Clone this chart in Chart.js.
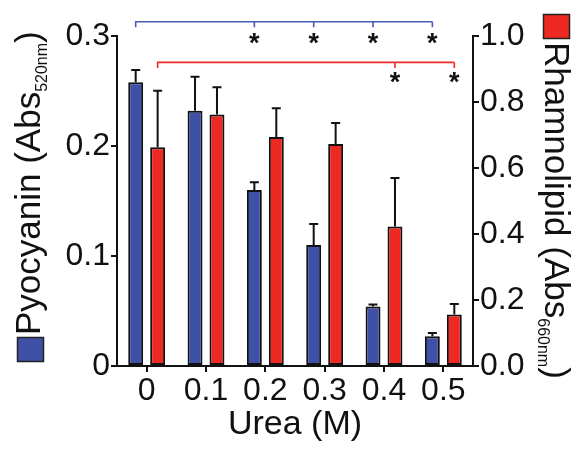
<!DOCTYPE html>
<html>
<head>
<meta charset="utf-8">
<script src="https://cdn.jsdelivr.net/npm/chart.js@4.4.1/dist/chart.umd.min.js"></script>
<style>
  html, body { margin: 0; padding: 0; background: #fff; }
  #chart { display: block; }
</style>
</head>
<body>
<canvas id="chart" width="577" height="455"></canvas>
<script>
// urea concentration (M)
var categories = ["0", "0.1", "0.2", "0.3", "0.4", "0.5"];

// pyocyanin, Abs 520nm (left axis)
var pyocyanin = [0.258, 0.232, 0.160, 0.110, 0.054, 0.027];
var pyocyaninErr = [0.011, 0.031, 0.007, 0.019, 0.002, 0.003];

// rhamnolipid, Abs 660nm (right axis)
var rhamnolipid = [0.663, 0.762, 0.694, 0.673, 0.423, 0.156];
var rhamnolipidErr = [0.171, 0.083, 0.087, 0.063, 0.147, 0.032];

// significance vs 0 M (indices into categories)
var pyocyaninSig = [2, 3, 4, 5];
var rhamnolipidSig = [4, 5];

var leftTicks = [0, 0.1, 0.2, 0.3];
var rightTicks = [0, 0.2, 0.4, 0.6, 0.8, 1.0];

var BLUE = "#3f51a7";
var RED = "#ee2823";
var FONT = "'Liberation Sans', Arial, Helvetica, sans-serif";

// error bars, significance brackets, axis titles with subscripts
var extras = {
  id: "extras",
  afterDatasetsDraw: function(chart) {
    var ctx = chart.ctx;
    var errs = [pyocyaninErr, rhamnolipidErr];
    var vals = [pyocyanin, rhamnolipid];

    ctx.save();
    ctx.strokeStyle = "#111";
    ctx.lineWidth = 2;
    for (var d = 0; d < 2; d++) {
      var meta = chart.getDatasetMeta(d);
      var sc = chart.scales[meta.yAxisID];
      meta.data.forEach(function(bar, j) {
        var yTop = sc.getPixelForValue(vals[d][j] + errs[d][j]);
        ctx.beginPath();
        ctx.moveTo(bar.x, bar.y);
        ctx.lineTo(bar.x, yTop);
        ctx.moveTo(bar.x - 4.5, yTop);
        ctx.lineTo(bar.x + 4.5, yTop);
        ctx.stroke();
      });
    }
    ctx.restore();

    function bracket(d, sig, level, starLevel, color) {
      var meta = chart.getDatasetMeta(d);
      var sc = chart.scales[meta.yAxisID];
      var y = sc.getPixelForValue(level);
      var x0 = meta.data[0].x;
      var x1 = meta.data[meta.data.length - 1].x;
      ctx.save();
      ctx.strokeStyle = color;
      ctx.lineWidth = 1.6;
      ctx.beginPath();
      ctx.moveTo(x0, y + 5.5);
      ctx.lineTo(x0, y);
      ctx.lineTo(x1, y);
      sig.forEach(function(i) {
        var x = meta.data[i].x;
        ctx.moveTo(x, y);
        ctx.lineTo(x, y + 5.5);
      });
      ctx.stroke();
      ctx.fillStyle = "#111";
      ctx.font = "bold 27px " + FONT;
      ctx.textAlign = "center";
      ctx.textBaseline = "alphabetic";
      var m = ctx.measureText("*");
      var cy = sc.getPixelForValue(starLevel);
      var base = cy + (m.actualBoundingBoxAscent - m.actualBoundingBoxDescent) / 2;
      sig.forEach(function(i) {
        ctx.fillText("*", meta.data[i].x, base);
      });
      ctx.restore();
    }
    bracket(0, pyocyaninSig, 0.313, 0.298, "#4a5cb5");
    bracket(1, rhamnolipidSig, 0.92, 0.873, "#ee2a2a");

    function title(x, y, angle, main, sub, subShift) {
      ctx.save();
      ctx.translate(x, y);
      ctx.rotate(angle);
      ctx.fillStyle = "#111";
      ctx.textAlign = "left";
      ctx.textBaseline = "alphabetic";
      ctx.font = "35px " + FONT;
      ctx.fillText(main, 0, 0);
      var w = ctx.measureText(main).width;
      ctx.font = "16px " + FONT;
      ctx.fillText(sub, w, subShift);
      w += ctx.measureText(sub).width;
      ctx.font = "35px " + FONT;
      ctx.fillText(")", w, 0);
      ctx.restore();
    }
    title(40, 335, -Math.PI / 2, "Pyocyanin (Abs", "520nm", 7);
    title(545, 42, Math.PI / 2, "Rhamnolipid (Abs", "660nm", 7);

    // legend squares next to the titles
    ctx.save();
    ctx.lineWidth = 1.5;
    ctx.strokeStyle = "#222";
    ctx.fillStyle = BLUE;
    ctx.fillRect(17.5, 337.5, 26, 24);
    ctx.strokeRect(17.5, 337.5, 26, 24);
    ctx.fillStyle = RED;
    ctx.fillRect(543.5, 14.5, 26, 24);
    ctx.strokeRect(543.5, 14.5, 26, 24);
    ctx.restore();
  }
};

new Chart(document.getElementById("chart"), {
  type: "bar",
  data: {
    labels: categories,
    datasets: [
      {
        label: "Pyocyanin",
        data: pyocyanin,
        yAxisID: "y",
        backgroundColor: BLUE,
        borderColor: "#111",
        borderWidth: 2,
        borderSkipped: false,
        categoryPercentage: 0.74,
        barPercentage: 0.68
      },
      {
        label: "Rhamnolipid",
        data: rhamnolipid,
        yAxisID: "y2",
        backgroundColor: RED,
        borderColor: "#111",
        borderWidth: 2,
        borderSkipped: false,
        categoryPercentage: 0.74,
        barPercentage: 0.68
      }
    ]
  },
  options: {
    responsive: false,
    animation: false,
    layout: { padding: { top: 36, left: 0, right: 0, bottom: 0 } },
    plugins: {
      legend: { display: false },
      tooltip: { enabled: false }
    },
    scales: {
      x: {
        offset: true,
        grid: { display: true, drawOnChartArea: false, drawTicks: true, tickLength: 6, offset: false, color: "#111", lineWidth: 2 },
        border: { display: true, color: "#111", width: 2 },
        ticks: { color: "#111", font: { family: FONT, size: 32 }, padding: 0, maxRotation: 0 },
        title: { display: true, text: "Urea (M)", color: "#111", font: { family: FONT, size: 34 }, padding: { top: 0, bottom: 10 } },
        afterFit: function(s) { s.height = 89; }
      },
      y: {
        position: "left",
        min: 0,
        max: 0.3,
        afterBuildTicks: function(s) { s.ticks = leftTicks.map(function(v) { return { value: v }; }); },
        grid: { display: true, drawOnChartArea: false, drawTicks: true, tickLength: 6, color: "#111", lineWidth: 2 },
        border: { display: true, color: "#111", width: 2 },
        ticks: { color: "#111", font: { family: FONT, size: 32 }, padding: 1, callback: function(v) { return String(v); } },
        afterFit: function(s) { s.width = 117; }
      },
      y2: {
        position: "right",
        min: 0,
        max: 1.0,
        afterBuildTicks: function(s) { s.ticks = rightTicks.map(function(v) { return { value: v }; }); },
        grid: { display: true, drawOnChartArea: false, drawTicks: true, tickLength: 6, color: "#111", lineWidth: 2 },
        border: { display: true, color: "#111", width: 2 },
        ticks: { color: "#111", font: { family: FONT, size: 32 }, padding: 1, callback: function(v) { return v.toFixed(1); } },
        afterFit: function(s) { s.width = 104; }
      }
    }
  },
  plugins: [extras]
});
</script>
</body>
</html>
